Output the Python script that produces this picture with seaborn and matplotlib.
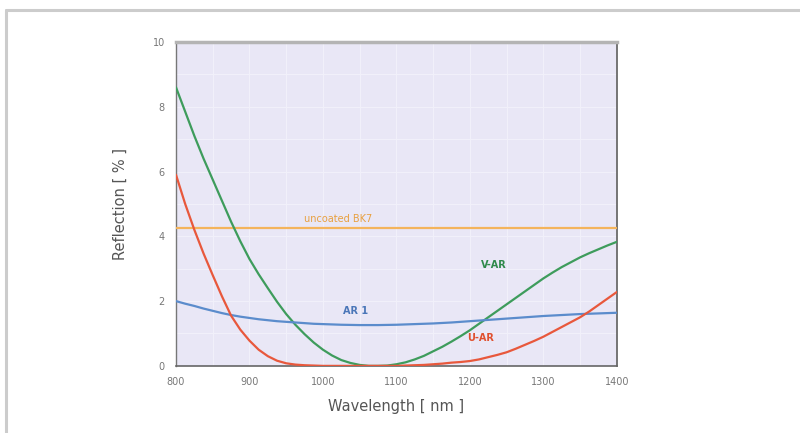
import numpy as np
import pandas as pd
import matplotlib
matplotlib.use("Agg")
import matplotlib.pyplot as plt
import seaborn as sns
from matplotlib.ticker import MultipleLocator

wavelength = [800, 812.5, 825, 837.5, 850, 862.5, 875, 887.5, 900, 912.5,
              925, 937.5, 950, 962.5, 975, 987.5, 1000, 1012.5, 1025, 1037.5,
              1050, 1062.5, 1075, 1087.5, 1100, 1112.5, 1125, 1137.5, 1150, 1162.5,
              1175, 1187.5, 1200, 1212.5, 1225, 1237.5, 1250, 1262.5, 1275, 1287.5,
              1300, 1312.5, 1325, 1337.5, 1350, 1362.5, 1375, 1387.5, 1400]

v_ar = [8.6, 7.85, 7.1, 6.4, 5.75, 5.1, 4.45, 3.85, 3.3, 2.83,
        2.4, 1.98, 1.6, 1.27, 0.98, 0.72, 0.5, 0.32, 0.18, 0.09,
        0.03, 0.0, 0.0, 0.01, 0.05, 0.11, 0.2, 0.31, 0.45, 0.59,
        0.75, 0.92, 1.1, 1.3, 1.5, 1.7, 1.9, 2.1, 2.3, 2.5,
        2.7, 2.88, 3.05, 3.2, 3.35, 3.48, 3.6, 3.72, 3.83]
u_ar = [5.9, 5.0, 4.2, 3.47, 2.8, 2.15, 1.55, 1.12, 0.78, 0.5,
        0.3, 0.16, 0.08, 0.04, 0.02, 0.01, 0.0, 0.0, 0.0, 0.0,
        0.0, 0.0, 0.0, 0.0, 0.0, 0.01, 0.02, 0.03, 0.05, 0.07,
        0.1, 0.12, 0.15, 0.2, 0.27, 0.34, 0.42, 0.53, 0.65, 0.77,
        0.9, 1.05, 1.2, 1.35, 1.5, 1.68, 1.88, 2.08, 2.28]
ar_1 = [2.0, 1.92, 1.85, 1.77, 1.7, 1.63, 1.57, 1.52, 1.48, 1.44,
        1.41, 1.38, 1.36, 1.34, 1.32, 1.3, 1.29, 1.28, 1.27, 1.265,
        1.26, 1.26, 1.26, 1.265, 1.27, 1.28, 1.29, 1.3, 1.31, 1.325,
        1.34, 1.36, 1.38, 1.4, 1.42, 1.44, 1.46, 1.48, 1.5, 1.52,
        1.54, 1.555, 1.57, 1.585, 1.6, 1.61, 1.62, 1.63, 1.64]
bk7 = [4.25] * len(wavelength)

series_names = ["uncoated BK7", "V-AR", "AR 1", "U-AR"]
series_values = [bk7, v_ar, ar_1, u_ar]
colors = {"uncoated BK7": "#f4b45c", "V-AR": "#3e9c5c",
          "AR 1": "#5b8ccc", "U-AR": "#e8583c"}

x_ticks = [800, 900, 1000, 1100, 1200, 1300, 1400]
y_ticks = [0, 2, 4, 6, 8, 10]

frames = []
for name, vals in zip(series_names, series_values):
    frames.append(pd.DataFrame({"Wavelength": wavelength, "Reflection": vals, "Coating": name}))
df = pd.concat(frames, ignore_index=True)

sns.set_style("white")
fig = plt.figure(figsize=(8, 4.33), dpi=100)
ax = fig.add_axes([0.22, 0.155, 0.551, 0.748])
ax.set_facecolor("#e9e7f6")

# faint grid
for xv in np.arange(800, 1401, 50):
    ax.axvline(xv, color="#f1f0fa", lw=0.8, zorder=0)
for yv in np.arange(0, 10.1, 1):
    ax.axhline(yv, color="#f1f0fa", lw=0.8, zorder=0)

sns.lineplot(data=df, x="Wavelength", y="Reflection", hue="Coating",
             palette=colors, hue_order=series_names, linewidth=1.6,
             legend=False, ax=ax, zorder=3)

ax.set_xlim(800, 1400)
ax.set_ylim(0, 10)
ax.set_xticks(x_ticks)
ax.set_yticks(y_ticks)
ax.xaxis.set_minor_locator(MultipleLocator(50))
ax.yaxis.set_minor_locator(MultipleLocator(1))
ax.tick_params(which="major", direction="inout", length=6, width=1,
               color="#555555", labelsize=7, labelcolor="#777777", pad=5)
ax.tick_params(which="minor", direction="inout", length=4, width=0.8, color="#555555")

ax.spines["top"].set_color("#b4b4b4")
ax.spines["top"].set_linewidth(2.5)
ax.spines["right"].set_color("#6a6a6a")
ax.spines["right"].set_linewidth(1.3)
ax.spines["left"].set_color("#777777")
ax.spines["left"].set_linewidth(1.0)
ax.spines["bottom"].set_color("#666666")
ax.spines["bottom"].set_linewidth(1.2)

ax.set_xlabel("Wavelength [ nm ]", fontsize=10.5, color="#555555", labelpad=9)
ax.set_ylabel("Reflection [ % ]", fontsize=10.5, color="#555555", labelpad=18)

ax.text(1020, 4.55, "uncoated BK7", color="#e8a040", fontsize=7, ha="center", va="center")
ax.text(1233, 3.1, "V-AR", color="#2f8a4a", fontsize=7, ha="center", va="center", fontweight="bold")
ax.text(1045, 1.7, "AR 1", color="#4a76b8", fontsize=7, ha="center", va="center", fontweight="bold")
ax.text(1215, 0.85, "U-AR", color="#e0502e", fontsize=7, ha="center", va="center", fontweight="bold")

# outer frame along the top and left edges
fig.add_artist(plt.Line2D([0.008, 1.0], [0.977, 0.977], color="#cccccc", lw=2.2,
                          transform=fig.transFigure))
fig.add_artist(plt.Line2D([0.008, 0.008], [0.0, 0.977], color="#cccccc", lw=2.2,
                          transform=fig.transFigure))

fig.savefig("out.png", dpi=100, facecolor="white")
